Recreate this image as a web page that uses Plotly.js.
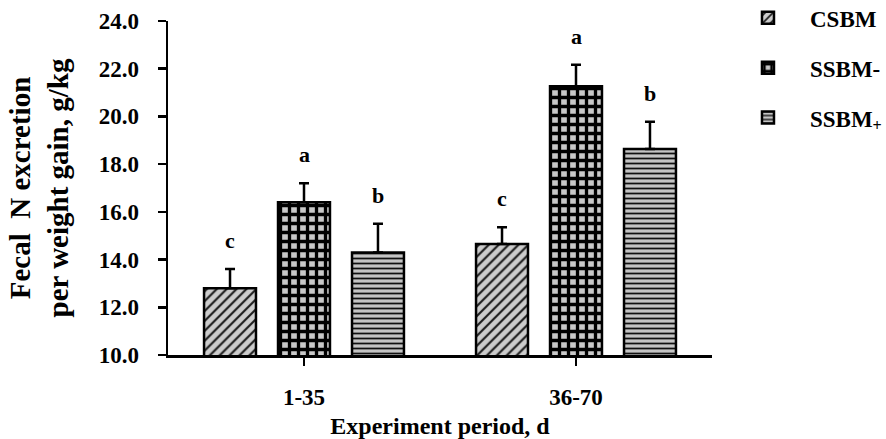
<!DOCTYPE html>
<html>
<head>
<meta charset="utf-8">
<script src="https://cdn.plot.ly/plotly-3.0.1.min.js"></script>
<style>html,body{margin:0;padding:0;background:#fff;}#chart{width:886px;height:439px;}</style>
</head>
<body>
<div id="chart"></div>
<script>
// ---- data ----
const periods = ["1-35", "36-70"];
const seriesNames = ["CSBM", "SSBM-", "SSBM<sub>+</sub>"];
const csbmMean = [12.8, 14.65];
const csbmSD = [0.8, 0.7];
const ssbmMinusMean = [16.4, 21.27];
const ssbmMinusSD = [0.8, 0.9];
const ssbmPlusMean = [14.3, 18.63];
const ssbmPlusSD = [1.2, 1.15];
const csbmLetters = ["c", "c"];
const ssbmMinusLetters = ["a", "a"];
const ssbmPlusLetters = ["b", "b"];
const yTicks = [10, 12, 14, 16, 18, 20, 22, 24];

const FONT = "Liberation Serif, Times New Roman, serif";
const means = [csbmMean, ssbmMinusMean, ssbmPlusMean];
const sds = [csbmSD, ssbmMinusSD, ssbmPlusSD];
const letters = [csbmLetters, ssbmMinusLetters, ssbmPlusLetters];
const patterns = [
  {shape: "/", bgcolor: "#cccccc", fgcolor: "#1a1a1a", size: 7, solidity: 0.3, fillmode: "replace"},
  {shape: "+", bgcolor: "#c8c8c8", fgcolor: "#000000", size: 9, solidity: 0.6, fillmode: "replace"},
  {shape: "-", bgcolor: "#c4c4c4", fgcolor: "#111111", size: 5, solidity: 0.35, fillmode: "replace"}
];

const traces = seriesNames.map((name, i) => ({
  type: "bar",
  name: name,
  legendgroup: "g" + i,
  x: periods,
  y: means[i],
  marker: {color: patterns[i].bgcolor, pattern: patterns[i], line: {color: "#000", width: 2.5}},
  error_y: {type: "data", symmetric: false, array: sds[i], arrayminus: sds[i].map(() => 0),
            color: "#000", thickness: 2.5, width: 5}
}));

const slot = 0.272;
const annotations = [];
for (let i = 0; i < 3; i++) {
  for (let j = 0; j < periods.length; j++) {
    annotations.push({
      x: j + (i - 1) * slot, y: means[i][j] + sds[i][j], xref: "x", yref: "y",
      text: "<b>" + letters[i][j] + "</b>", showarrow: false, yanchor: "bottom", yshift: 14,
      font: {family: FONT, size: 22, color: "#000"}
    });
  }
}

const layout = {
  width: 886, height: 439,
  margin: {l: 168, r: 174, t: 21, b: 84, autoexpand: false},
  paper_bgcolor: "#fff", plot_bgcolor: "#fff",
  barmode: "group", bargap: 0.184, bargroupgap: 0.298,
  font: {family: FONT, color: "#000"},
  showlegend: true,
  legend: {x: 1.0257, xanchor: "left", y: 1.074, yanchor: "top", traceorder: "grouped", tracegroupgap: 17,
           font: {family: FONT, size: 23, color: "#000", weight: "bold"}, itemwidth: 74},
  xaxis: {
    type: "category", range: [-0.5, 1.5], showline: true, linecolor: "#000", linewidth: 2.5,
    ticks: "outside", ticklen: 8, tickwidth: 2.5, tickcolor: "#000", showgrid: false, zeroline: false,
    tickfont: {family: FONT, size: 23, color: "#000", weight: "bold"}, ticklabelstandoff: 12,
    title: {text: "<b>Experiment period, d</b>", font: {family: FONT, size: 24, color: "#000"}, standoff: 11}
  },
  yaxis: {
    range: [10, 24], tickvals: yTicks, tickformat: ".1f", showline: true, linecolor: "#000", linewidth: 2.5,
    ticks: "outside", ticklen: 8, tickwidth: 2.5, tickcolor: "#000", showgrid: false, zeroline: false,
    tickfont: {family: FONT, size: 23, color: "#000", weight: "bold"}, ticklabelstandoff: 14,
    title: {text: "<b>Fecal  N excretion<br>per weight gain, g/kg</b>", font: {family: FONT, size: 29, color: "#000"}, standoff: 22}
  },
  annotations: annotations
};

Plotly.newPlot("chart", traces, layout, {staticPlot: true});
</script>
</body>
</html>
